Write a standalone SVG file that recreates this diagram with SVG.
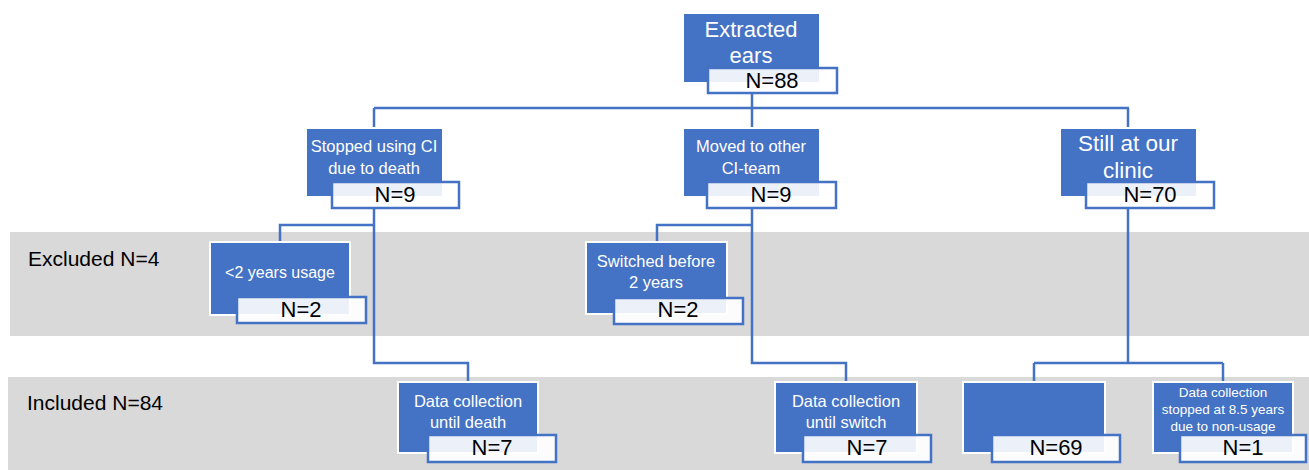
<svg xmlns="http://www.w3.org/2000/svg" width="1309" height="470" viewBox="0 0 1309 470">
<style>
.band{fill:#d9d9d9}
.blue{fill:#4472c4;stroke:#ffffff;stroke-width:2}
.nbox{fill:#ffffff;fill-opacity:0.9;stroke:#4472c4;stroke-width:2.5}
.conn{fill:none;stroke:#4472c4;stroke-width:2.5}
text{font-family:"Liberation Sans",Arial,sans-serif;text-anchor:middle}
.w{fill:#ffffff}
.k{fill:#000000;font-size:22px}
.lab{fill:#000000;font-size:21px;text-anchor:start}
</style>
<rect width="1309" height="470" fill="#ffffff"/>
<g id="bands">
<rect class="band" x="10" y="232" width="1299" height="104"/>
<rect class="band" x="8" y="377" width="1301" height="93"/>
<text class="lab" x="28" y="266">Excluded N=4</text>
<text class="lab" x="27" y="410">Included N=84</text>
</g>
<g id="connectors">
<path class="conn" d="M752 93V108M374 108H1129M374 108V128M752 108V128M1128 108V128"/>
<path class="conn" d="M374 208V363H468V382M374 225H280V242"/>
<path class="conn" d="M752 208V363H846V382M752 225H657V242"/>
<path class="conn" d="M1128 208V363M1034 363H1223M1034 363V382M1223 363V382"/>
</g>
<g id="n-extracted">
<rect class="blue" x="683" y="13" width="137" height="70"/>
<rect class="nbox" x="708" y="68" width="129" height="25"/>
<text class="w" x="751" y="37" font-size="22">Extracted</text>
<text class="w" x="751" y="63" font-size="22">ears</text>
<text class="k" x="772" y="88">N=88</text>
</g>
<g id="n-stopped">
<rect class="blue" x="306" y="128" width="137" height="69"/>
<rect class="nbox" x="332" y="182" width="127" height="26"/>
<text class="w" x="374" y="152" font-size="16.5">Stopped using CI</text>
<text class="w" x="374" y="174" font-size="16.5">due to death</text>
<text class="k" x="395" y="202">N=9</text>
</g>
<g id="n-moved">
<rect class="blue" x="683" y="128" width="137" height="69"/>
<rect class="nbox" x="707" y="182" width="129" height="26"/>
<text class="w" x="751" y="152" font-size="16.5">Moved to other</text>
<text class="w" x="751" y="174" font-size="16.5">CI-team</text>
<text class="k" x="771" y="202">N=9</text>
</g>
<g id="n-still">
<rect class="blue" x="1060" y="128" width="137" height="69"/>
<rect class="nbox" x="1086" y="182" width="128" height="26"/>
<text class="w" x="1128" y="151" font-size="22.5">Still at our</text>
<text class="w" x="1128" y="178" font-size="22.5">clinic</text>
<text class="k" x="1150" y="202">N=70</text>
</g>
<g id="n-lt2years">
<rect class="blue" x="210" y="242" width="140" height="73"/>
<rect class="nbox" x="237" y="297" width="129" height="26"/>
<text class="w" x="280" y="278" font-size="16">&lt;2 years usage</text>
<text class="k" x="301" y="317">N=2</text>
</g>
<g id="n-switched">
<rect class="blue" x="586" y="242" width="141" height="72"/>
<rect class="nbox" x="614" y="298" width="129" height="26"/>
<text class="w" x="656" y="267" font-size="16.5">Switched before</text>
<text class="w" x="656" y="288" font-size="16.5">2 years</text>
<text class="k" x="678" y="317">N=2</text>
</g>
<g id="n-death">
<rect class="blue" x="398" y="382" width="140" height="71"/>
<rect class="nbox" x="428" y="435" width="128" height="27"/>
<text class="w" x="468" y="407" font-size="16.5">Data collection</text>
<text class="w" x="468" y="428" font-size="16.5">until death</text>
<text class="k" x="492" y="455">N=7</text>
</g>
<g id="n-switch">
<rect class="blue" x="775" y="382" width="142" height="71"/>
<rect class="nbox" x="803" y="435" width="128" height="27"/>
<text class="w" x="846" y="407" font-size="16.5">Data collection</text>
<text class="w" x="846" y="428" font-size="16.5">until switch</text>
<text class="k" x="867" y="455">N=7</text>
</g>
<g id="n-69">
<rect class="blue" x="963" y="382" width="142" height="71"/>
<rect class="nbox" x="992" y="435" width="128" height="27"/>
<text class="k" x="1056" y="455">N=69</text>
</g>
<g id="n-nonusage">
<rect class="blue" x="1153" y="382" width="140" height="71"/>
<rect class="nbox" x="1180" y="435" width="126" height="27"/>
<text class="w" x="1223" y="397" font-size="13.5">Data collection</text>
<text class="w" x="1223" y="414" font-size="13.5">stopped at 8.5 years</text>
<text class="w" x="1223" y="431" font-size="13.5">due to non-usage</text>
<text class="k" x="1243" y="455">N=1</text>
</g>
</svg>
